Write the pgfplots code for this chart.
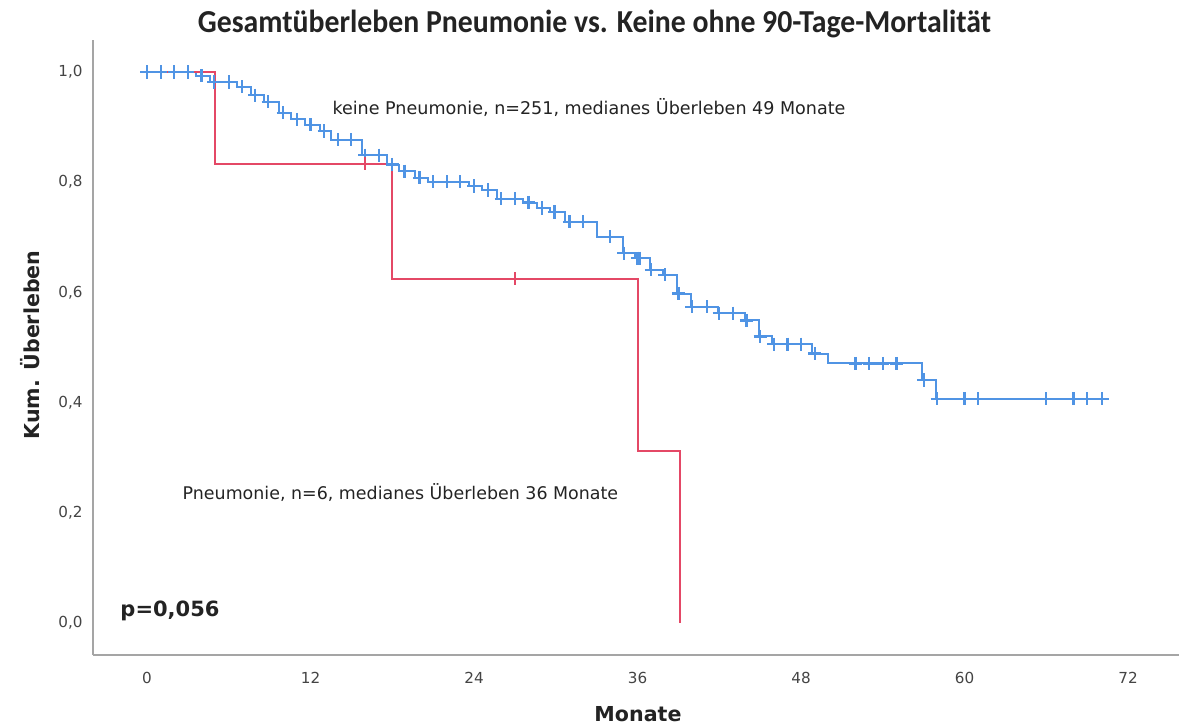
\documentclass[border=0pt]{standalone}
\usepackage{fontspec}
\setmainfont{DejaVu Sans}
\newfontfamily\titlefont{Carlito}
\usepackage{pgfplots}
\usepackage{pgfplotstable}
\pgfplotsset{compat=1.18}

\definecolor{kmblue}{RGB}{80,148,228}
\definecolor{kmred}{RGB}{228,72,102}
\definecolor{axgray}{RGB}{165,165,165}
\definecolor{txt}{RGB}{35,35,35}

% Kaplan-Meier steps: time (months), survival after the step
\pgfplotstableread{
t s
0 1.000
3.6 0.993
4.6 0.982
6.6 0.973
7.6 0.958
8.6 0.946
9.7 0.926
10.6 0.914
11.6 0.904
12.7 0.893
13.5 0.877
15.8 0.849
17.6 0.832
18.5 0.820
19.7 0.808
20.6 0.801
23.6 0.793
24.6 0.786
25.7 0.770
27.6 0.763
28.6 0.753
29.6 0.746
30.7 0.728
33.0 0.701
34.9 0.671
35.8 0.662
36.9 0.641
37.9 0.632
38.9 0.598
39.9 0.574
41.9 0.562
43.9 0.549
44.9 0.520
45.9 0.506
48.8 0.489
50.0 0.471
56.9 0.441
57.9 0.407
70.3 0.407
}\keinesteps

% censored cases (no pneumonia)
\pgfplotstableread{
t s
0 1.000
1 1.000
2 1.000
3 1.000
4.0 0.993
4.9 0.982
6.0 0.982
7.0 0.973
7.9 0.958
8.9 0.946
10.0 0.926
11.0 0.914
12.0 0.904
13.0 0.893
14.0 0.877
15.0 0.877
16.0 0.849
17.0 0.849
18.0 0.832
18.9 0.820
20.0 0.808
21.0 0.801
22.0 0.801
23.0 0.801
24.0 0.793
25.0 0.786
26.0 0.770
27.0 0.770
28.0 0.763
29.0 0.753
29.9 0.746
31.0 0.728
32.0 0.728
34.0 0.701
35.0 0.671
36.0 0.662
36.2 0.662
37.0 0.641
38.0 0.632
39.0 0.598
40.0 0.574
41.1 0.574
42.0 0.562
43.0 0.562
44.0 0.549
45.0 0.520
46.0 0.506
47.0 0.506
48.0 0.506
49.0 0.489
52.0 0.471
53.0 0.471
54.0 0.471
55.0 0.471
57.0 0.441
58.0 0.407
60.0 0.407
61.0 0.407
66.0 0.407
68.0 0.407
69.0 0.407
70.1 0.407
}\keinecens

\pgfplotstableread{
t s
0 1.000
5.0 0.8333
18.0 0.625
36.0 0.3125
39.1 0.0
}\pneusteps

\pgfplotstableread{
t s
16.0 0.8333
27.0 0.625
}\pneucens

\begin{document}
\begin{tikzpicture}
\begin{axis}[
  scale only axis, width=543pt, height=307.5pt,
  xmin=-3.963, xmax=75.74, ymin=-0.05808, ymax=1.05808,
  axis x line*=bottom, axis y line*=left,
  axis line style={axgray, line width=1pt, -},
  xtick={0,12,24,36,48,60,72},
  ytick={0,0.2,0.4,0.6,0.8,1.0},
  major tick length=0pt,
  tick label style={font=\fontsize{7.6}{9}\selectfont, text=txt!85},
  /pgf/number format/assume math mode=true,
  yticklabel={\pgfmathprintnumber[fixed,fixed zerofill,precision=1,use comma]{\tick}},
  yticklabel style={anchor=east, inner sep=0pt, xshift=-5pt},
  xticklabel style={anchor=north, inner sep=0pt, yshift=-8.5pt},
  clip=false,
]
\addplot[const plot, kmblue, line width=1pt] table[x=t, y=s] {\keinesteps};
\addplot[const plot, kmred, line width=1pt] table[x=t, y=s] {\pneusteps};
\addplot[only marks, mark=+, mark size=3.3pt, kmblue, mark options={line width=1.1pt}] table[x=t, y=s] {\keinecens};
\addplot[only marks, mark=+, mark size=3.3pt, kmred, mark options={line width=1.1pt}] table[x=t, y=s] {\pneucens};

\node[font=\fontsize{8.77}{10}\selectfont, text=txt] at (axis cs:32.44,0.9347)
  {keine Pneumonie, n=251, medianes Überleben 49 Monate};
\node[font=\fontsize{8.72}{10}\selectfont, text=txt] at (axis cs:18.6,0.236)
  {Pneumonie, n=6, medianes Überleben 36 Monate};
\node[font=\fontsize{10.5}{12}\selectfont\bfseries, text=txt] at (axis cs:1.69,0.0218)
  {p=0,056};
\end{axis}

% title and axis labels
\node[font=\titlefont\fontsize{16}{18}\selectfont\bfseries, text=txt] at (250.75pt,315.5pt)
  {\scalebox{0.93}[1]{Gesamtüberleben Pneumonie vs. Keine ohne 90-Tage-Mortalität}};
\node[font=\fontsize{10.3}{12}\selectfont\bfseries, text=txt, rotate=90] at (-31.5pt,155pt)
  {Kum. Überleben};
\node[font=\fontsize{10.3}{12}\selectfont\bfseries, text=txt] at (272.5pt,-29.5pt)
  {Monate};

\pgfresetboundingbox
\path[use as bounding box] (-46.5pt,-34.5pt) rectangle (543pt,327.5pt);
\end{tikzpicture}
\end{document}
